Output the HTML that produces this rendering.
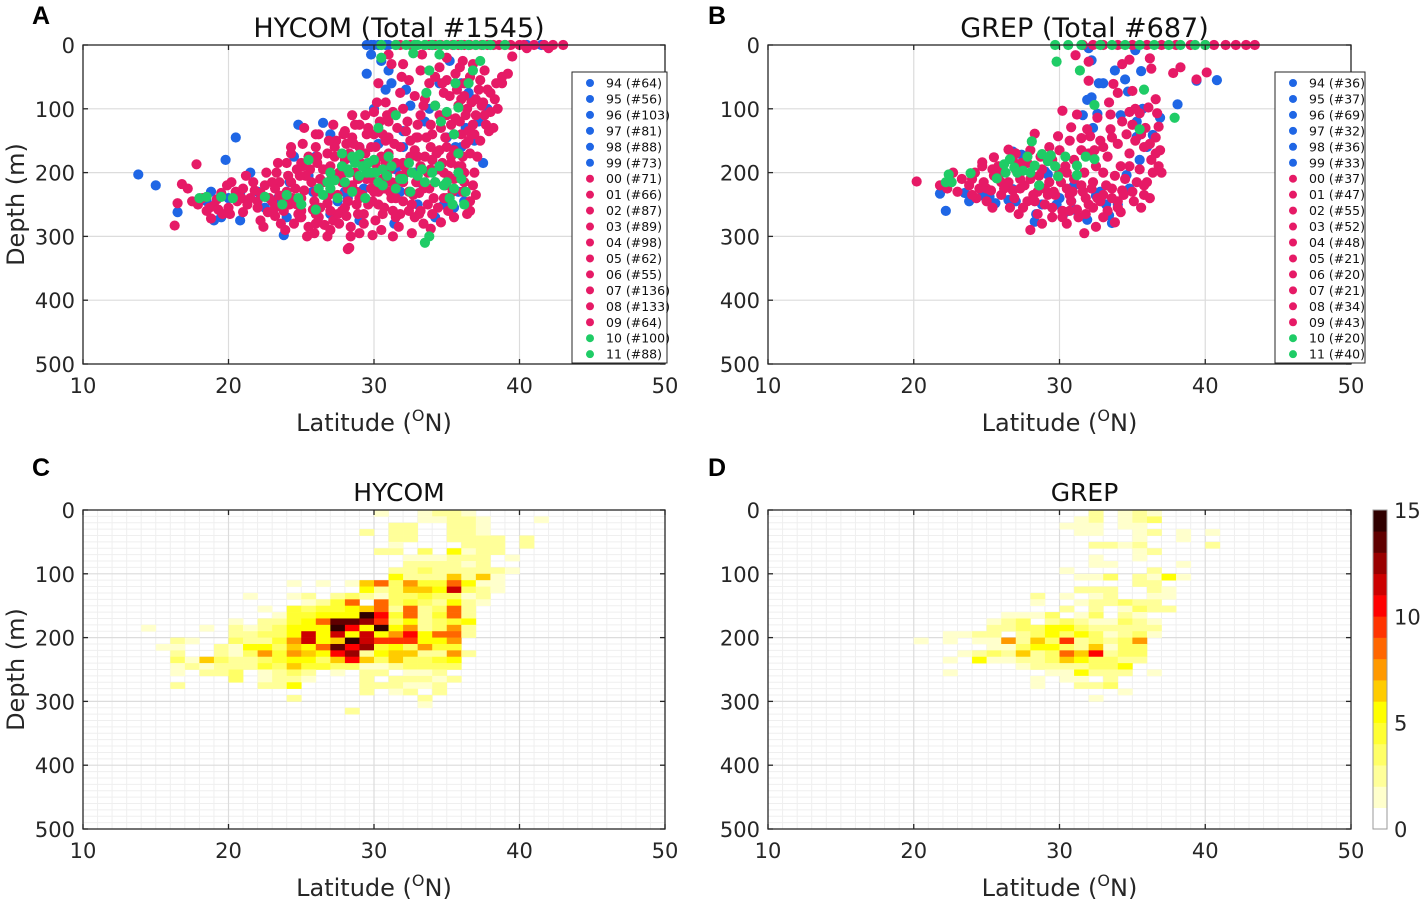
<!DOCTYPE html>
<html><head><meta charset="utf-8">
<style>
html,body{margin:0;padding:0;background:#fff;}
svg{display:block;font-family:"DejaVu Sans","Liberation Sans",sans-serif;}
</style></head>
<body>
<svg id="fig" width="1423" height="907" viewBox="0 0 1423 907" xmlns="http://www.w3.org/2000/svg"></svg>
<script>
// ---------- data ----------
const latTicks=[10,20,30,40,50];
const depTicks=[0,100,200,300,400,500];
const cbTicks=[0,5,10,15];
const legendYears=["94","95","96","97","98","99","00","01","02","03","04","05","06","07","08","09","10","11"];
const legendHycom=[64,56,103,81,88,73,71,66,87,89,98,62,55,136,133,64,100,88];
const legendGrep=[36,37,69,32,36,33,37,47,55,52,48,21,20,21,34,43,20,40];
const legendGroup=[0,0,0,0,0,0,1,1,1,1,1,1,1,1,1,1,2,2];
const groupColors=["#1f66e5","#e61a66","#1fcc66"];

// scatter panel A (lat, depth)
const aBlue=[[29.5,0],[29.8,0],[30,0],[30.3,0],[30.5,0],[30.8,0],[31,0],[34,0],[36.5,0],[40.5,0],[41.5,0],[13.8,203],[15,220],[16.5,262],[18.5,245],[19,275],[20,240],[20.8,275],[20.5,145],[21.5,200],[22,230],[23.4,240],[23.8,298],[24.2,215],[24.8,125],[25.5,205],[26,175],[26.5,122],[27,265],[27.8,195],[28.2,240],[29,275],[29.5,205],[30.3,155],[30.8,70],[31,40],[31.4,280],[32,160],[32.5,95],[33,250],[33.5,120],[34,180],[34.5,60],[35,145],[35.5,255],[36,160],[36.5,75],[37.2,120],[37.5,185],[35.8,230],[34.2,270],[31.8,230],[30.8,215],[28.6,180],[27,140],[25,250],[22.5,255],[30,100],[32.8,200],[36.3,130],[29.5,45],[30.5,25],[19.8,180],[18.8,230],[36.2,245],[36.8,85],[32,135],[29,160],[24,270],[28,230],[29.3,225],[31.5,195],[33,215],[34.8,250],[35.6,160],[33.8,100],[32.2,70],[31.2,60],[27.5,245],[25.8,230],[23.2,255],[20.8,232],[19.5,270],[36.9,150],[37.8,100],[36,60],[35.2,25],[29.8,15],[24.5,175]];
const aPink=[[31.5,0],[31.8,0],[32.5,0],[32.8,0],[33.5,0],[33.8,0],[34.2,0],[34.6,0],[35,0],[35.4,0],[35.8,0],[36.2,0],[36.6,0],[37,0],[37.4,0],[37.8,0],[38.2,0],[38.6,0],[39,0],[39.4,0],[40,0],[40.3,0],[41,0],[41.7,0],[42.3,0],[43,0],[16.3,283],[16.8,218],[17.2,225],[16.5,248],[17.5,245],[18.5,260],[18.8,272],[19,252],[19.6,265],[19.5,232],[20.2,215],[20.6,245],[21,262],[21.5,240],[21.8,228],[22,255],[22.2,275],[23,245],[23.2,268],[23.5,236],[23.8,260],[24.2,250],[24.5,280],[24.6,225],[24.8,265],[25,240],[25.3,205],[25.5,285],[25.8,258],[26,230],[26.2,270],[26.5,215],[26.8,248],[27,190],[27.2,275],[27.5,235],[27.6,210],[27.8,260],[28,180],[28.2,245],[28.4,285],[28.5,220],[28.7,200],[28.9,265],[29,160],[29.2,235],[29.4,190],[29.6,250],[29.8,210],[30,140],[30.1,275],[30.3,230],[30.5,175],[30.7,255],[30.9,200],[31,120],[31.2,240],[31.4,155],[31.6,215],[31.8,265],[32,185],[32.2,135],[32.4,230],[32.6,250],[32.8,165],[33,205],[33.2,110],[33.4,280],[33.6,145],[33.8,225],[34,180],[34.2,95],[34.4,255],[34.6,130],[34.8,200],[35,160],[35.2,80],[35.4,230],[35.6,115],[35.8,190],[36,140],[36.2,60],[36.4,100],[36.6,170],[36.8,125],[37,85],[37.3,150],[37.6,110],[38,75],[38.5,100],[38.8,50],[38.8,60],[38.2,130],[37.8,70],[22.5,220],[23.3,200],[24,185],[24.7,195],[25.5,175],[26,160],[26.8,170],[27.4,150],[28,135],[28.6,155],[29,125],[29.8,160],[30.4,120],[31,145],[31.5,185],[32,100],[32.5,150],[33,125],[33.5,175],[34,140],[34.5,165],[35,110],[35.5,140],[36,85],[36.5,135],[37,110],[36,190],[35.5,210],[34.8,240],[33.7,250],[32.8,270],[31.7,285],[30.5,290],[29,295],[28.2,320],[27,290],[26,280],[25,260],[24,230],[23.5,215],[22.8,240],[21.2,205],[20.5,230],[19.2,242],[18.2,240],[26.5,195],[27.8,215],[28.8,230],[29.5,210],[30.2,195],[31,170],[32.2,200],[33.2,190],[34.2,215],[35,240],[36.2,215],[36.6,245],[34,265],[31.3,260],[30.7,225],[29.9,245],[27,225],[25.7,215],[24.9,205],[23.8,245],[26.3,255],[28.1,268],[29.3,280],[32,245],[33.1,232],[35.8,95],[34.8,75],[33.8,60],[33.2,40],[34.5,35],[35.6,45],[36.8,30],[32.4,55],[31.8,75],[30.8,90],[30,105],[37.3,55],[36.9,200],[35.1,260],[28.3,318],[17.8,187],[42,5],[39.5,18],[24.3,160],[25.2,130],[26.2,140],[27.2,125],[28.5,110],[29.5,140],[30.8,150],[31.6,130],[32.9,145],[33.9,160],[35.3,175],[36.3,155],[37.5,90],[37.9,135],[31.1,195],[30.1,185],[28.3,170],[27.3,175],[26.1,185],[25,185],[23.2,225],[22,245],[21,225],[20,255],[27.6,200],[28.9,210],[29.9,225],[31.8,205],[32.9,215],[33.9,195],[34.9,220],[36.1,230],[33.1,265],[30.6,265],[27.6,280],[25.9,295],[30.3,60],[31.2,30],[35,20],[36.1,25],
[22.2,232],[22.7,262],[23,215],[23.6,280],[24.1,205],[24.4,240],[24.9,270],[25.2,228],[25.6,195],[25.9,245],[26.3,210],[26.6,282],[26.9,235],[27.3,160],[27.5,265],[27.9,200],[28.2,225],[28.5,145],[28.8,250],[29.1,185],[29.3,265],[29.6,130],[29.8,225],[30.1,160],[30.3,250],[30.6,140],[30.8,185],[31.1,230],[31.3,105],[31.5,270],[31.8,160],[32,215],[32.3,120],[32.5,175],[32.7,235],[33,145],[33.2,260],[33.4,95],[33.7,200],[33.9,125],[34.1,240],[34.3,170],[34.5,110],[34.7,185],[34.9,145],[35.1,205],[35.3,125],[35.5,165],[35.7,70],[35.9,120],[36.1,175],[36.3,110],[36.5,150],[36.7,90],[36.9,140],[37.1,175],[37.4,95],[37.7,125],[38,105],[38.3,85],[37.2,70],[36.6,50],[35.9,35],[35,55],[34.2,50],[33.5,85],[32.8,80],[31.9,50],[30.9,110],[30.2,90],[29.4,110],[28.7,125],[27.9,140],[26.9,150],[26,140],[25.1,155],[24.3,170],[23.4,185],[22.6,200],[21.7,215],[20.9,240],[20.1,265],[19.3,258],[18.7,255],[17.9,250],[19.9,220],[21.3,250],[22.4,285],[23.9,290],[25.4,300],[26.8,300],[28.4,300],[29.9,298],[31.3,300],[32.6,295],[33.9,288],[35.5,270],[36.6,260],[37,235],[36.4,265],[34.6,278],[29.4,170],[28.1,155],[27.1,205],[26.1,175],[25.1,190],[24.3,215],[23.2,255],[30.6,210],[31.5,240],[32.4,260],[33.4,225],[34.4,195],[35.3,185],[36.2,200],[36.8,220],[33,175],[32.1,190],[31.2,215],[30,230],[29,240],[28,255],[27,260],[26,265],[25,270],[24.7,250],[31,15],[32,30],[33.3,15],[34.7,60],[36.2,80],[37.6,40],[38.4,60],[39.2,45],[40.5,5]];
const aGreen=[[30.5,0],[31.5,0],[32.2,0],[32.8,0],[33,0],[33.5,0],[34,0],[34.5,0],[35,0],[35.5,0],[36,0],[36.5,0],[37,0],[37.5,0],[38,0],[39,0],[18,240],[18.5,238],[22.5,238],[25,250],[26,258],[26.5,235],[27,225],[27.5,240],[28,215],[28.3,200],[28.7,185],[29,172],[29.4,240],[29.8,200],[30,180],[30.3,215],[30.6,195],[31,175],[31.5,225],[32,210],[32.5,230],[33,205],[33.5,215],[34,200],[34.5,190],[35.2,240],[35.5,225],[36,210],[35.8,170],[35.5,140],[35,105],[35.8,98],[36.5,60],[33.8,40],[34.5,15],[32.7,13],[30.5,20],[33.5,310],[33.8,300],[29.5,200],[27.8,190],[26.8,215],[25.5,180],[31.5,110],[30.3,130],[37.3,25],[19.5,238],[20.3,240],[24,235],[29.2,190],[30.9,205],[32.4,185],[28.5,175],[34.8,220],[36.2,250],[27,200],[28.2,195],[29,205],[29.6,185],[30.1,200],[30.6,220],[31.2,190],[31.8,210],[32.6,200],[33.3,195],[34.2,215],[35,215],[35.8,200],[28.5,230],[27.3,212],[26.2,225],[24.8,240],[23.7,250],[36.3,230],[35.4,250],[34.6,120],[34.2,95],[33.6,75],[35.6,60],[36.8,40],[27.8,170]];

// scatter panel B (lat, depth)
const bBlue=[[32.2,24],[32.7,60],[33,60],[34.5,54],[34.7,73],[35.6,41],[31.9,86],[32.2,82],[38.1,93],[39.4,56],[31.6,110],[32.6,108],[35.3,120],[35.7,100],[36.9,114],[35.3,144],[36.4,141],[32.3,130],[26.8,167],[27.4,172],[21.8,233],[22.2,260],[23.5,232],[24.7,236],[25.2,238],[26.5,243],[28.3,277],[28.4,265],[29,198],[30.4,262],[31,258],[31.9,274],[33.4,267],[33.6,279],[34.6,204],[34.8,225],[26.8,226],[29.2,203],[32.5,236],[31,220],[32,5],[35.2,8],[40.8,55],[30.8,245],[33.2,250],[29.8,250],[25.6,248],[27,245],[28.8,250],[30,240],[32.8,230],[34,250],[35.5,180],[36,160],[34.2,110],[33.8,40],[23.8,245]];
const bPink=[[31.6,0],[32.3,0],[33,0],[34,0],[35,0],[36,0],[37,0],[38,0],[39,0],[40,0],[40.6,0],[41.4,0],[42.1,0],[42.8,0],[43.4,0],[31.1,16],[32,26],[32,56],[33.7,61],[34.3,30],[34.8,23],[35,72],[36.3,37],[36.2,21],[38.3,35],[37.8,44],[39.4,54],[40.1,43],[30.2,103],[31.2,109],[32.6,114],[33.5,109],[34.8,105],[35.5,107],[36.1,98],[36.7,107],[36.8,128],[30.8,129],[31.9,132],[33.5,132],[28.3,139],[29.9,143],[31.5,146],[32.1,143],[26.5,164],[25.5,176],[24.7,184],[22.7,200],[20.2,214],[23.8,220],[24.7,190],[31.7,295],[23,230],[24,210],[25,225],[25.5,205],[26,235],[26.5,215],[27,195],[27.3,225],[27.8,245],[28,210],[28.5,230],[28.8,195],[29,250],[29.3,215],[29.7,235],[30,200],[30.2,260],[30.5,225],[30.8,245],[31,210],[31.3,270],[31.6,230],[32,250],[32.3,215],[32.6,240],[33,200],[33.3,260],[33.6,225],[34,245],[34.2,190],[34.5,210],[34.8,170],[35,230],[35.2,150],[35.5,195],[35.8,160],[36,215],[36.3,180],[36.6,145],[36.9,165],[34.6,140],[35.9,130],[34,155],[33.3,175],[32.5,190],[31.7,200],[31,180],[30.4,190],[29.5,180],[28.7,175],[27.8,185],[27,170],[26,200],[25,245],[27.5,255],[28.5,265],[29.5,270],[30.5,280],[32.5,285],[33.8,278],[34.2,262],[35.6,255],[36.2,240],[33,160],[32,170],[30,165],[37,200],[24.3,240],[22.3,225],[28,290],[31.2,258],[29,225],[26.8,228],[28.2,235],[29.6,230],[30.7,235],[31.8,240],[33,235],[34.3,228],[35.3,215],[35.8,235],[27.3,210],[26,215],[25.3,228],[24.5,225],
[24,235],[24.8,215],[25.4,195],[26.2,225],[26.9,240],[27.6,220],[28.3,245],[29.2,235],[30.1,215],[30.9,230],[31.5,220],[32.2,225],[32.8,245],[33.6,240],[34.4,235],[35.1,245],[35.8,220],[36.4,200],[36.6,170],[36.2,155],[35.6,140],[35,125],[34.3,120],[33.6,145],[32.8,150],[32.4,165],[31.5,165],[30.7,150],[29.3,160],[28,165],[26.8,180],[25.8,190],[24.2,200],[23.3,210],[22.5,215],[21.8,220],[27.2,265],[28.8,280],[30.2,270],[31.8,265],[33,270],[34,255],[32.3,255],[30.7,260],[29.5,255],[26.6,255],[25.4,255],[36.8,190],[34.8,190],[33.8,205],[33.2,220],[30.5,200],[28.6,205],[27.4,185],[35.2,100],[33.4,90],[36.6,85],[34,75]];
const bGreen=[[29.7,0],[30.6,0],[31.5,0],[32.8,0],[33.6,0],[34.5,0],[35.5,0],[36.5,0],[37.5,0],[38.3,0],[39.3,0],[40,0],[29.8,26],[31.4,40],[32.4,94],[35.8,70],[37.9,114],[35.5,132],[28.1,151],[22.2,215],[22.4,203],[23.9,201],[25.7,209],[26.2,187],[26.6,179],[26.9,192],[27.5,197],[28.3,189],[28.8,171],[29.4,173],[29.7,190],[29.9,206],[28.6,220],[31.2,189],[31.2,204],[31.8,175],[32.4,179],[27.1,200],[26.3,200],[29.2,182],[30.4,175],[28,200],[27.8,175],[22.6,215]];

// heatmap rows: depth bin k (10k..10k+10 m) -> "lat:count ..."
const hycomRows=[
"30:1 33:1 34:2 35:2 36:1",
"33:1 34:1 35:2 36:2 37:1 41:1",
"31:2 32:2 35:2 36:2 37:1",
"29:2 31:2 32:2 35:2 36:2 37:1",
"31:2 32:2 35:2 36:2 37:2 38:2 40:2",
"31:1 36:2 37:2 38:2 40:2",
"30:2 31:2 33:3 35:5 36:1 37:2 38:2",
"32:1 33:1 34:1 35:2 36:2 37:2 39:1",
"32:2 33:2 34:2 35:2 36:1 37:2",
"31:2 32:2 33:3 34:2 35:2 36:2 37:2 38:2 39:1",
"31:5 32:2 33:2 34:2 35:6 36:2 37:6 38:1",
"24:1 26:1 28:1 29:6 30:8 31:3 32:7 33:4 34:4 35:8 36:5 37:1 38:1",
"29:5 30:2 31:3 32:6 33:6 34:5 35:11 36:3 37:2 38:1",
"21:1 24:1 25:2 27:2 28:3 29:2 30:1 31:3 32:3 33:4 34:3 35:3 36:1 37:2",
"25:1 26:2 27:4 28:8 30:8 31:3 32:4 33:3 34:2 35:5 36:2 37:1",
"22:1 24:4 25:3 26:4 27:4 28:5 29:6 30:8 31:2 32:8 33:2 34:3 35:8 36:2",
"23:1 24:4 25:4 26:5 27:5 28:5 29:14 30:10 31:4 32:8 33:2 34:4 35:8 36:2",
"20:1 22:2 23:2 24:4 25:5 26:8 27:13 28:13 29:12 30:9 31:3 32:5 33:2 34:3 35:4 36:5",
"14:1 18:1 20:2 21:1 22:2 23:3 24:5 25:5 26:5 27:14 28:10 29:5 30:14 31:5 32:7 33:2 34:3 35:7 36:2",
"20:2 21:2 22:3 23:3 24:5 25:11 26:5 27:11 28:5 29:11 30:5 31:7 32:10 33:5 34:8 35:8 36:2",
"16:2 17:1 20:3 21:2 22:2 23:4 24:7 25:11 26:5 27:6 28:14 29:11 30:9 31:9 32:9 33:5 34:5 35:7",
"15:1 16:1 19:2 20:1 21:5 22:5 23:3 24:6 25:5 26:8 27:13 28:10 29:12 30:4 31:5 32:3 33:7 34:4 35:4",
"16:2 19:2 20:1 21:3 22:7 23:4 24:7 25:6 26:5 27:10 28:12 29:2 30:5 31:6 32:6 33:2 34:2 35:7 36:2",
"16:3 17:1 18:6 19:3 20:2 21:2 22:3 23:4 24:5 25:5 26:3 27:6 28:10 29:6 30:3 31:6 32:3 33:3 34:4 35:5",
"16:1 17:2 18:1 19:2 20:2 21:2 22:4 23:3 24:6 25:4 26:4 27:3 28:3 29:1 30:1 31:2 32:3 33:3 34:3 35:3",
"16:1 18:2 19:2 20:3 22:1 23:2 24:3 25:2 27:1 29:2 30:2 32:1 33:1 34:2",
"20:3 22:1 23:2 24:2 25:1 29:2 31:2 32:2 33:2 34:1 35:2",
"16:2 22:2 23:2 24:5 29:2 30:2 31:2 32:1 33:1 34:2",
"29:2 31:1 32:2 34:2",
"24:2 33:2",
"33:1",
"28:2"
];
const grepRows=[
"32:2 34:1 35:2 36:1",
"31:1 32:2 34:1 35:2 36:3",
"30:1 31:1 32:1 34:1 35:1",
"31:1 32:1 35:1 36:2 38:1 40:1",
"35:1 38:1",
"32:2 33:2 34:1 35:2 40:2",
"35:1 36:2",
"32:1 35:1",
"32:1 33:1 38:1",
"30:1 36:2",
"31:1 32:1 33:3 35:2 36:1 37:5 38:1",
"35:2 36:2",
"31:2 32:2 33:2 36:2 37:1",
"28:2 30:1 32:1 33:2 36:1 37:1",
"28:1 31:1 32:2 33:2 34:3 35:2 36:2",
"30:2 32:2 34:1 35:3 36:2 37:2",
"26:1 27:1 28:1 29:3 31:1 32:3 34:2 35:1",
"25:1 26:2 27:3 29:2 30:3 31:2 32:1 33:1 34:3 35:2 36:1",
"25:2 26:2 27:3 28:3 29:5 30:5 31:3 32:2 33:2 34:2 35:2 36:2",
"22:1 23:1 24:2 25:2 27:2 28:3 29:5 30:3 31:5 32:3 33:1 34:2 35:3 36:1",
"20:1 22:1 24:1 25:1 26:7 27:2 28:6 29:3 30:9 31:2 32:3 33:2 34:3 35:7",
"25:1 26:1 27:3 28:5 29:5 30:3 31:2 32:6 33:1 34:3 35:3",
"23:1 24:2 25:3 26:2 27:6 28:2 29:3 30:8 31:6 32:10 33:2 34:3 35:3",
"22:1 24:5 25:1 26:1 27:2 28:2 29:3 30:6 31:5 32:3 33:3 34:2 35:2",
"27:1 28:2 29:2 30:2 31:2 32:3 33:3 34:5",
"22:1 29:1 30:1 31:5 32:2 33:2 34:2 36:1",
"28:1 30:1 31:1 33:2",
"28:1 31:2 32:2 33:3",
"34:1",
"32:1"
];
const cmap=["#ffffff","#ffffcc","#ffff99","#ffff66","#ffff33","#ffff00","#ffcc00","#ff9900","#ff6600","#ff3300","#ff0000","#cc0000","#990000","#600000","#300000"];

// ---------- drawing ----------
const NS="http://www.w3.org/2000/svg";
const svg=document.getElementById('fig');
function mk(tag,attrs,parent){const e=document.createElementNS(NS,tag);for(const k in attrs)e.setAttribute(k,attrs[k]);(parent||svg).appendChild(e);return e;}

const panels={
 A:{x0:83,y0:45,W:582,H:319},
 B:{x0:768,y0:45,W:583,H:319},
 C:{x0:83,y0:510,W:582,H:319},
 D:{x0:768,y0:510,W:583,H:319}
};
function sx(p,lat){return p.x0+(lat-10)/40*p.W;}
function sy(p,d){return p.y0+d/500*p.H;}

function drawAxes(key,minor){
 const p=panels[key];
 const g=mk('g',{});
 
 
 if(minor){
  for(let l=11;l<50;l++){ if(l%10===0)continue;
   const ln=mk('line',{x1:sx(p,l),x2:sx(p,l),y1:p.y0,y2:p.y0+p.H,stroke:'#efefef','stroke-width':1},g);
   }
  for(let d=10;d<500;d+=10){ if(d%100===0)continue;
   const ln=mk('line',{x1:p.x0,x2:p.x0+p.W,y1:sy(p,d),y2:sy(p,d),stroke:'#efefef','stroke-width':1},g);
   }
 }
 latTicks.forEach(t=>{
  if(t>10&&t<50){const ln=mk('line',{x1:sx(p,t),x2:sx(p,t),y1:p.y0,y2:p.y0+p.H,stroke:'#dcdcdc','stroke-width':1.2},g);
   }
 });
 depTicks.forEach(t=>{
  if(t>0&&t<500){const ln=mk('line',{x1:p.x0,x2:p.x0+p.W,y1:sy(p,t),y2:sy(p,t),stroke:'#dcdcdc','stroke-width':1.2},g);
   }
 });
}
function drawFrame(key,title,titleY,titleSize,letter,letterY){
 const p=panels[key];
 const g=mk('g',{});
 
 
 const r=mk('rect',{x:p.x0,y:p.y0,width:p.W,height:p.H,fill:'none',stroke:'#262626','stroke-width':1.3},g);
 
 latTicks.forEach(t=>{
  const x=sx(p,t);
  mk('line',{x1:x,x2:x,y1:p.y0+p.H,y2:p.y0+p.H-5,stroke:'#262626','stroke-width':1.3},g);
  mk('line',{x1:x,x2:x,y1:p.y0,y2:p.y0+5,stroke:'#262626','stroke-width':1.3},g);
  const tx=mk('text',{x:x,y:p.y0+p.H+29,'text-anchor':'middle','font-size':21,fill:'#262626'},g);
  tx.textContent=t;
  
 });
 depTicks.forEach(t=>{
  const y=sy(p,t);
  mk('line',{x1:p.x0,x2:p.x0+5,y1:y,y2:y,stroke:'#262626','stroke-width':1.3},g);
  mk('line',{x1:p.x0+p.W,x2:p.x0+p.W-5,y1:y,y2:y,stroke:'#262626','stroke-width':1.3},g);
  const tx=mk('text',{x:p.x0-8,y:y+8,'text-anchor':'end','font-size':21,fill:'#262626'},g);
  tx.textContent=t;
  
 });
 const xl=mk('text',{x:p.x0+p.W/2,y:p.y0+p.H+67,'text-anchor':'middle','font-size':24,fill:'#262626'},g);
 xl.innerHTML='Latitude (<tspan dy="-10" font-size="16">O</tspan><tspan dy="10">N)</tspan>';
 
 if(key==='A'||key==='C'){
  const yl=mk('text',{x:0,y:0,'text-anchor':'middle','font-size':24,fill:'#262626',transform:'translate(24,'+(p.y0+p.H/2)+') rotate(-90)'},g);
  yl.textContent='Depth (m)';
  
 }
 const tt=mk('text',{x:p.x0+p.W/2+25,y:titleY,'text-anchor':'middle','font-size':titleSize,fill:'#111'},g);
 tt.textContent=title;
 
 const lt=mk('text',{x:key==='A'||key==='C'?32:708,y:letterY,'font-size':25,'font-weight':'bold','font-family':'"Liberation Sans",sans-serif',fill:'#000'},g);
 lt.textContent=letter;
 
}

function drawScatter(key,sets){
 const p=panels[key];
 const g=mk('g',{});
 
 
 sets.forEach(([pts,col,name])=>{
  pts.forEach(([lat,d])=>{
   const c=mk('circle',{cx:sx(p,lat),cy:sy(p,d),r:5.1,fill:col},g);
   
   
  });
 });
}

function drawHeat(key,rows){
 const p=panels[key];
 const g=mk('g',{});
 
 
 rows.forEach((row,k)=>{
  row.split(' ').filter(s=>s).forEach(s=>{
   const [lat,v]=s.split(':').map(Number);
   const x1=sx(p,lat),x2=sx(p,lat+1),y1=sy(p,k*10),y2=sy(p,k*10+10);
   const r=mk('rect',{x:x1,y:y1,width:x2-x1+0.3,height:y2-y1+0.3,fill:cmap[Math.min(v,14)]},g);
   
   
  });
 });
}

function drawLegend(x,y,w,counts){
 const g=mk('g',{});
 
 
 const h=291;
 mk('rect',{x:x,y:y,width:w,height:h,fill:'#fff',stroke:'#262626','stroke-width':1},g);
 legendYears.forEach((yr,i)=>{
  const cy=y+11+i*15.95;
  const c=mk('circle',{cx:x+18,cy:cy,r:4,fill:groupColors[legendGroup[i]]},g);
  
  const t=mk('text',{x:x+34,y:cy+4.5,'font-size':12.5,fill:'#111'},g);
  t.textContent=yr+' (#'+counts[i]+')';
  
 });
}

function drawColorbar(){
 const x=1373,y0=510,y1=829,w=14;
 const g=mk('g',{});
 
 
 const bh=(y1-y0)/cmap.length;
 cmap.forEach((c,i)=>{
  const r=mk('rect',{x:x,y:y1-(i+1)*bh,width:w,height:bh+0.3,fill:c},g);
  
 });
 mk('rect',{x:x,y:y0,width:w,height:y1-y0,fill:'none',stroke:'#9a9a9a','stroke-width':1},g);
 cbTicks.forEach(t=>{
  const yy=y1-t/15*(y1-y0);
  const tx=mk('text',{x:x+21,y:yy+8,'font-size':21,fill:'#262626'},g);
  tx.textContent=t;
  
 });
}

// Panel A
drawAxes('A',false);
drawScatter('A',[[aBlue,groupColors[0],'point-blue'],[aPink,groupColors[1],'point-pink'],[aGreen,groupColors[2],'point-green']]);
drawFrame('A','HYCOM (Total #1545)',37,27,'A',24);
drawLegend(572,72,95,legendHycom);
// Panel B
drawAxes('B',false);
drawScatter('B',[[bBlue,groupColors[0],'point-blue'],[bPink,groupColors[1],'point-pink'],[bGreen,groupColors[2],'point-green']]);
drawFrame('B','GREP (Total #687)',37,27,'B',24);
drawLegend(1275,72,90,legendGrep);
// Panel C
drawAxes('C',true);
drawHeat('C',hycomRows);
drawFrame('C','HYCOM',501,25,'C',476);
// Panel D
drawAxes('D',true);
drawHeat('D',grepRows);
drawFrame('D','GREP',501,25,'D',476);
drawColorbar();
</script>
</body></html>
